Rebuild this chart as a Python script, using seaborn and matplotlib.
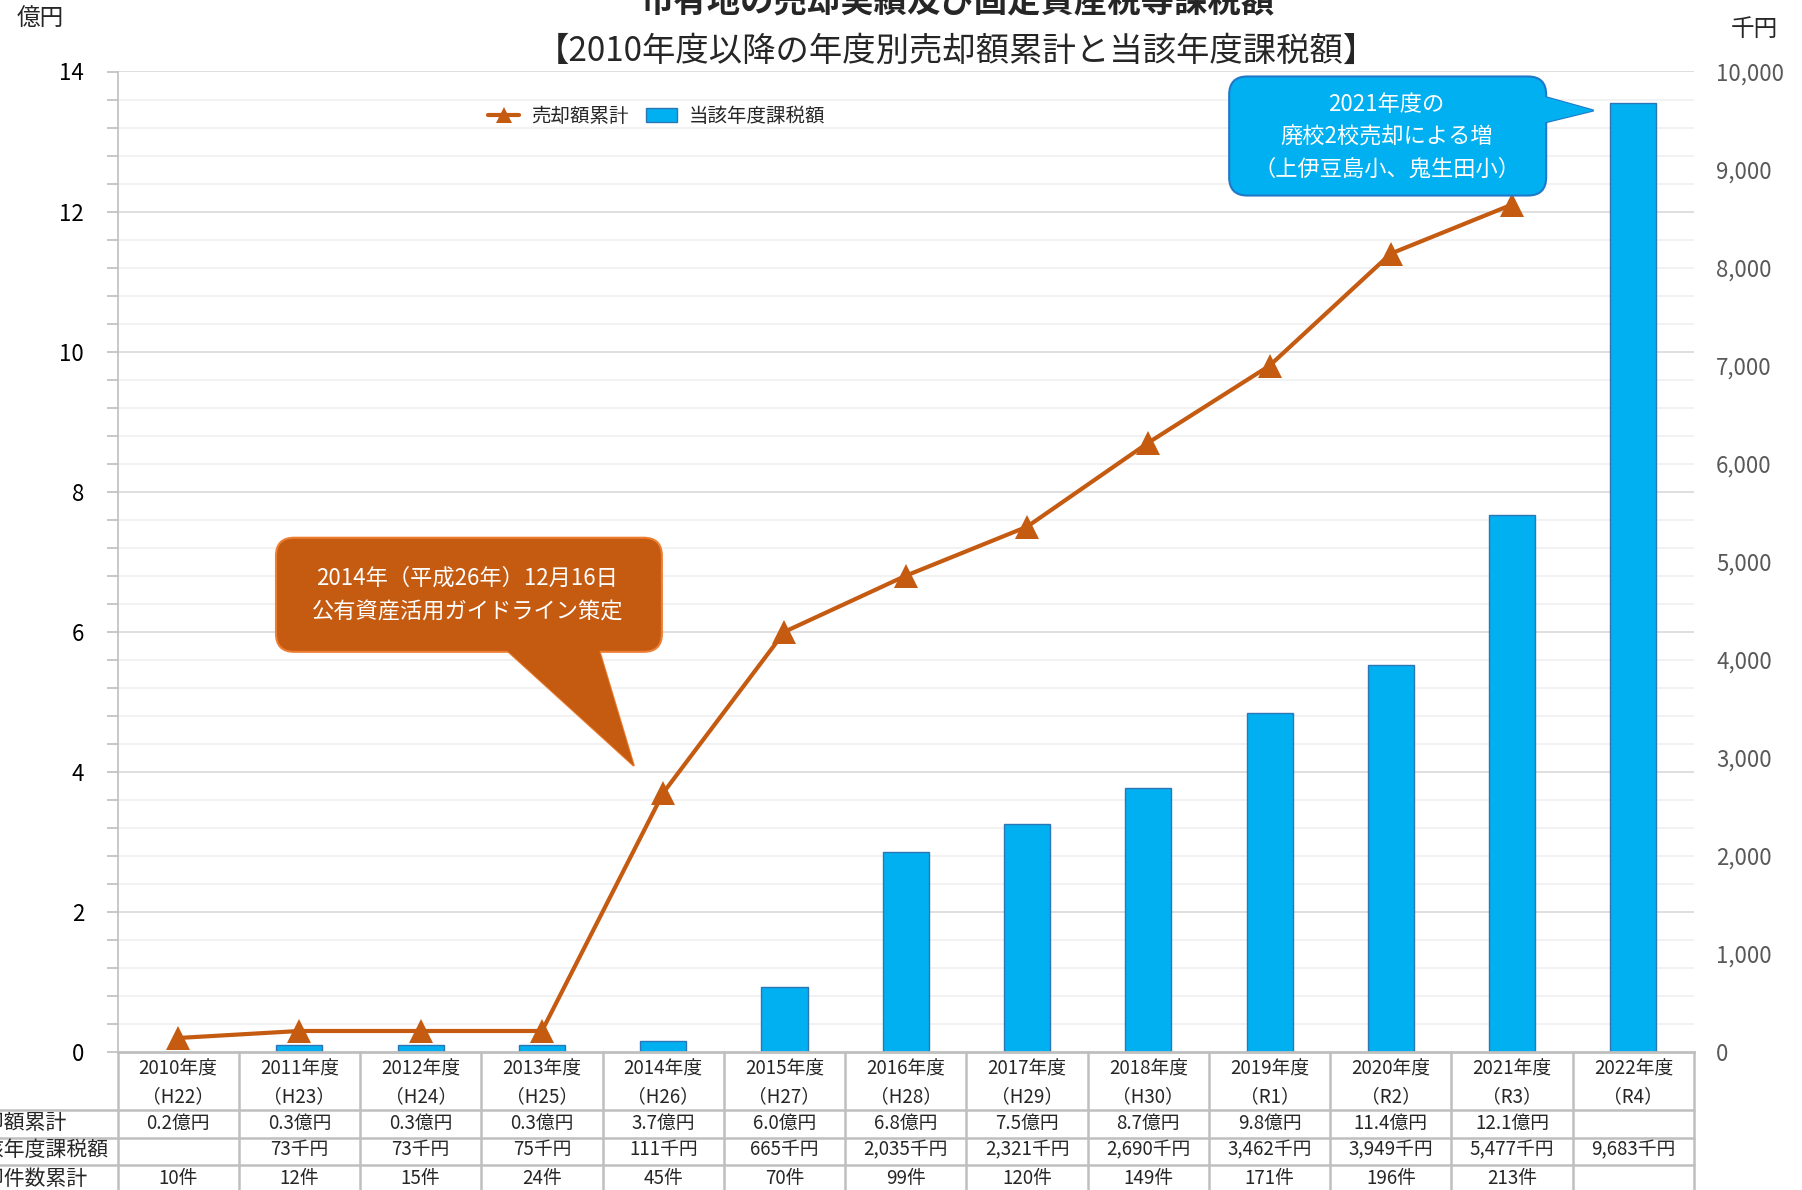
import numpy as np
import pandas as pd
import matplotlib
matplotlib.use('Agg')
import matplotlib.pyplot as plt
import seaborn as sns
from matplotlib.lines import Line2D
from matplotlib.patches import Patch, FancyBboxPatch, Polygon

# ---- data ----
years = ['2010年度', '2011年度', '2012年度', '2013年度', '2014年度', '2015年度', '2016年度',
         '2017年度', '2018年度', '2019年度', '2020年度', '2021年度', '2022年度']
eras = ['（H22）', '（H23）', '（H24）', '（H25）', '（H26）', '（H27）', '（H28）',
        '（H29）', '（H30）', '（R1）', '（R2）', '（R3）', '（R4）']
sales_total = [0.2, 0.3, 0.3, 0.3, 3.7, 6.0, 6.8, 7.5, 8.7, 9.8, 11.4, 12.1, np.nan]   # 億円
tax_amount = [np.nan, 73, 73, 75, 111, 665, 2035, 2321, 2690, 3462, 3949, 5477, 9683]  # 千円
sale_count = [10, 12, 15, 24, 45, 70, 99, 120, 149, 171, 196, 213, np.nan]              # 件
row_labels = ['売却額累計', '当該年度課税額', '売却件数累計']

LINE_C = '#C55A11'
BAR_C = '#00B0F0'
GRID_C = '#BFBFBF'

df = pd.DataFrame({'year': years, 'era': eras, 'sales': sales_total,
                   'tax': tax_amount, 'count': sale_count})
df['pos'] = np.arange(len(df))

sns.set_theme(style='white')
plt.rcParams['font.family'] = ['Noto Sans CJK JP', 'DejaVu Sans']

fig = plt.figure(figsize=(18.02, 11.90), dpi=100)
W, H = 1802, 1190
ax = fig.add_axes([117.5 / W, 1 - 1052 / H, 1576.5 / W, 980.5 / H])
ax2 = ax.twinx()

# bars on the right-hand axis (千円)
sns.barplot(data=df, x='year', y='tax', ax=ax2, color=BAR_C, width=0.38,
            edgecolor='#2E75B6', linewidth=1, saturation=1)
ax2.set_ylim(0, 10000)

# light gridlines every 0.4 億円, stronger every 2 億円
for k in range(1, 36):
    ax2.axhline(k * 10000 / 35, color='#D9D9D9' if k % 5 == 0 else '#F0F0F0',
                lw=1.2, zorder=0)

# cumulative sales line on the left-hand axis (億円)
ax.set_zorder(ax2.get_zorder() + 1)
ax.patch.set_visible(False)
line_df = df.dropna(subset=['sales'])
sns.lineplot(data=line_df, x='pos', y='sales', ax=ax, color=LINE_C, lw=3,
             marker='^', markersize=17, markeredgewidth=0, legend=False)
ax.set_ylim(0, 14)
ax.set_xlim(-0.5, 12.5)

# axes styling
ax.set_yticks(np.arange(0, 14.01, 2))
ax.set_yticklabels([f'{v:.0f}' for v in np.arange(0, 14.01, 2)])
ax.set_yticks(np.arange(0, 14.01, 0.4), minor=True)
ax.tick_params(axis='y', which='both', left=True, length=8, width=1.2,
               color=GRID_C, labelsize=16, pad=16, labelcolor='black')
ax.yaxis.tick_left()
ax.set_xticks([])
ax2.set_xticks([])
ax.set_xlabel('')
ax.set_ylabel('')
ax2.set_xlabel('')
ax2.set_ylabel('')
ax2.set_yticks(range(0, 10001, 1000))
ax2.set_yticklabels([f'{v:,}' for v in range(0, 10001, 1000)])
ax2.tick_params(axis='y', length=0, labelsize=16, pad=16, labelcolor='#595959')
for s in ['top', 'right']:
    ax.spines[s].set_visible(False)
for s in ax2.spines.values():
    s.set_visible(False)
ax.spines['left'].set_color(GRID_C)
ax.spines['left'].set_linewidth(1.2)
ax.spines['bottom'].set_color(GRID_C)
ax.spines['bottom'].set_linewidth(2)

# legend
handles = [Line2D([0], [0], color=LINE_C, lw=3, marker='^', markersize=12, markeredgewidth=0),
           Patch(facecolor=BAR_C, edgecolor='#2E75B6')]
ax.legend(handles, ['売却額累計', '当該年度課税額'], loc='center', bbox_to_anchor=(0.342, 0.954),
          ncol=2, frameon=False, fontsize=14, handlelength=1.6, handleheight=0.7,
          handletextpad=0.6, columnspacing=0.9)

# unit labels and titles
fig.text(40 / W, 1 - 19 / H, '億円', ha='center', va='center', fontsize=17)
fig.text(1754 / W, 1 - 29 / H, '千円', ha='center', va='center', fontsize=17)
fig.text(958 / W, 1 - 3 / H, '市有地の売却実績及び固定資産税等課税額', ha='center', va='center',
         fontsize=24, fontweight='bold')
fig.text(956 / W, 1 - 51 / H, '【2010年度以降の年度別売却額累計と当該年度課税額】',
         ha='center', va='center', fontsize=24)


def callout(box, pointer, face, edge, lines, text_x, text_ys):
    x0, y0, x1, y1 = box
    ax.add_patch(Polygon(pointer, closed=True, facecolor=face, edgecolor=edge, lw=1.5,
                         zorder=5, clip_on=False))
    ax.add_patch(FancyBboxPatch((x0, y0), x1 - x0, y1 - y0,
                                boxstyle='round,pad=0,rounding_size=0.15',
                                mutation_aspect=121.3 / 70, facecolor=face, edgecolor=edge,
                                lw=1.5, zorder=6, clip_on=False))
    ax.add_patch(Polygon(pointer, closed=True, facecolor=face, edgecolor='none',
                         zorder=7, clip_on=False))
    for txt, ty in zip(lines, text_ys):
        ax.text(text_x, ty, txt, ha='center', va='center', color='white', fontsize=16, zorder=8)


callout((0.807, 5.714, 3.989, 7.343),
        [(2.670, 5.80), (3.461, 5.80), (3.758, 4.086)],
        LINE_C, '#ED7D31',
        ['2014年（平成26年）12月16日', '公有資産活用ガイドライン策定'],
        2.385, [6.771, 6.286])
callout((8.667, 12.229, 11.281, 13.929),
        [(11.20, 13.671), (11.20, 13.243), (11.672, 13.443)],
        BAR_C, '#1F78C8',
        ['2021年度の', '廃校2校売却による増', '（上伊豆島小、鬼生田小）'],
        9.966, [13.529, 13.057, 12.60])

# data table under the plot
tr = ax.get_xaxis_transform()
n = len(df)
row_lines = [-0.0592, -0.0877, -0.1152, -0.1438]
for y in row_lines:
    ax.plot([-2.5, n - 0.5], [y, y], color=GRID_C, lw=1.8, transform=tr, clip_on=False)
for xb in np.arange(-0.5, n, 1.0):
    ax.plot([xb, xb], [0, row_lines[-1]], color=GRID_C, lw=1.8, transform=tr, clip_on=False)

TS = 13.5
for i, r in df.iterrows():
    ax.text(i, -0.017, r['year'], ha='center', va='center', fontsize=TS, transform=tr)
    ax.text(i, -0.046, r['era'], ha='center', va='center', fontsize=TS, transform=tr)
    if not np.isnan(r['sales']):
        ax.text(i, -0.0729, f"{r['sales']:.1f}億円", ha='center', va='center', fontsize=TS, transform=tr)
    if not np.isnan(r['tax']):
        ax.text(i, -0.0999, f"{r['tax']:,.0f}千円", ha='center', va='center', fontsize=TS, transform=tr)
    if not np.isnan(r['count']):
        ax.text(i, -0.1295, f"{int(r['count'])}件", ha='center', va='center', fontsize=TS, transform=tr)

# row labels sit partly outside the left edge, as in the source image
for lab, y in zip(row_labels, [-0.0729, -0.0999, -0.1295]):
    ax.text(-1.78, y, lab, ha='left', va='center', fontsize=15, transform=tr)

fig.savefig('out.png', dpi=100)
